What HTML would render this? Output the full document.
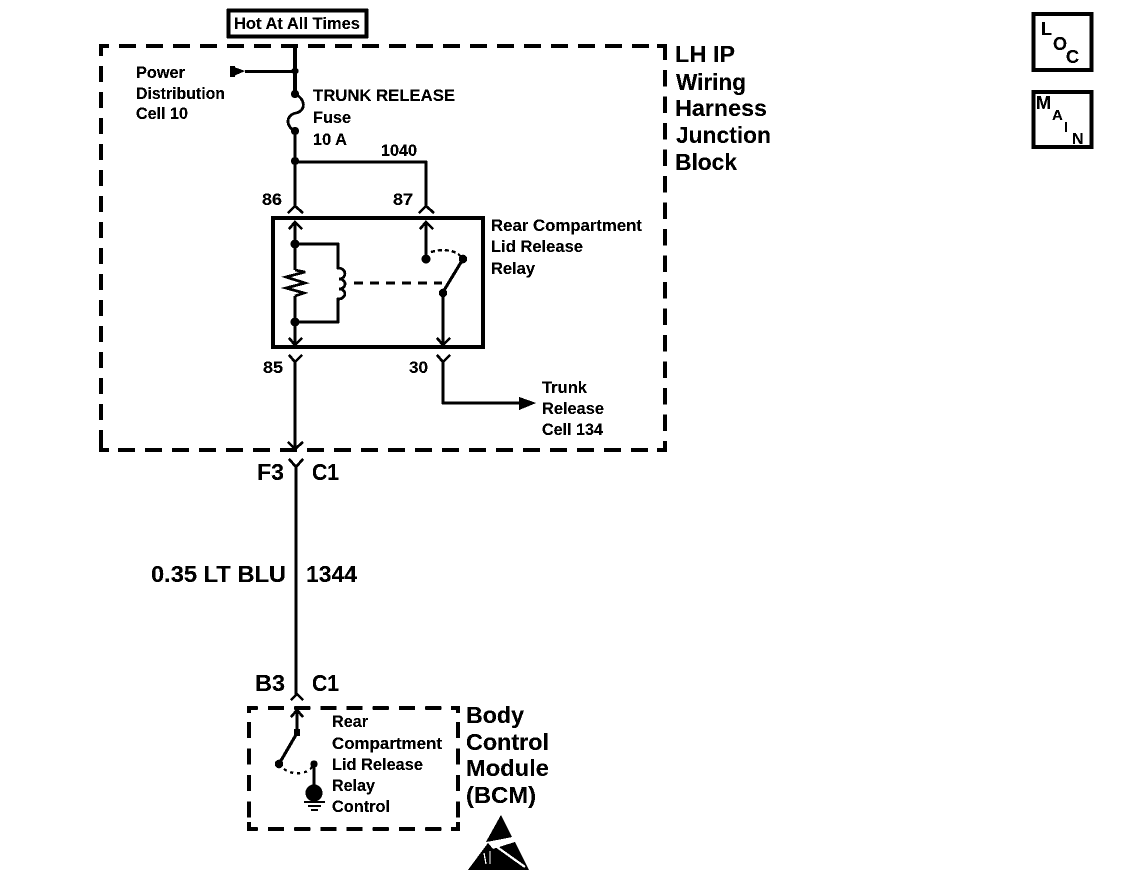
<!DOCTYPE html>
<html>
<head>
<meta charset="utf-8">
<style>
html,body{margin:0;padding:0;background:#fff;width:1136px;height:882px;overflow:hidden}
svg{display:block}
text{font-family:"Liberation Sans",sans-serif;fill:#000;font-weight:bold}
.s{font-size:16.5px}
.m{font-size:23.5px}
.n{font-size:23px}
.w{fill:none;stroke:#000;stroke-width:2.6}
.t{fill:none;stroke:#000;stroke-width:3.4}
.d{fill:#000;stroke:none}
.da{fill:none;stroke:#000;stroke-width:4}
.db{fill:none;stroke:#000;stroke-width:3.6}
</style>
</head>
<body>
<svg width="1136" height="882" viewBox="0 0 1136 882" xmlns="http://www.w3.org/2000/svg">
<defs>
<filter id="th" x="0" y="0" width="100%" height="100%" color-interpolation-filters="sRGB">
<feComponentTransfer>
<feFuncR type="discrete" tableValues="0 0 1"/>
<feFuncG type="discrete" tableValues="0 0 1"/>
<feFuncB type="discrete" tableValues="0 0 1"/>
</feComponentTransfer>
</filter>
</defs>
<g filter="url(#th)">
<rect x="0" y="0" width="1136" height="882" fill="#fff"/>
<rect x="228.5" y="10.5" width="138" height="26" class="t"/>
<text x="234" y="29" class="s" textLength="126" lengthAdjust="spacingAndGlyphs">Hot At All Times</text>

<!-- outer dashed block -->
<path d="M101 46H665" class="da" stroke-dasharray="17 10" stroke-dashoffset="9"/>
<path d="M665 46V450" class="da" stroke-dasharray="16.5 10" stroke-dashoffset="2.5"/>
<path d="M101 450H665" class="da" stroke-dasharray="17 10" stroke-dashoffset="10"/>
<path d="M101 46V450" class="da" stroke-dasharray="16 10" stroke-dashoffset="6"/>
<path d="M99 46H109M101 44V54" class="da"/>
<path d="M99 450H109M101 452V442" class="da"/>
<path d="M667 46H657M665 44V54" class="da"/>
<path d="M667 450H657M665 452V442" class="da"/>

<!-- top wiring -->
<path d="M295 46V93" class="t"/>
<path d="M245 71.5H295" class="w"/>
<path d="M231 66L245 71L231 77Z" class="d"/><rect x="230" y="66" width="5" height="11" class="d"/>
<circle cx="295" cy="71" r="3.5" class="d"/>
<circle cx="295" cy="94" r="4" class="d"/>
<path d="M295 94C306 99 306 111 296 113C286 115 285 126 295 131" class="w"/>
<circle cx="295" cy="131" r="4" class="d"/>
<path d="M295 131V207" class="t" style="stroke-width:3"/>
<circle cx="295" cy="161" r="4" class="d"/>
<path d="M295 162H426V207" class="w"/>
<path d="M288 213L295 206L303 213" class="w"/>
<path d="M419 213L426 206L434 213" class="w"/>

<text x="136" y="78" class="s" textLength="49" lengthAdjust="spacingAndGlyphs">Power</text>
<text x="136" y="99" class="s" textLength="89" lengthAdjust="spacingAndGlyphs">Distribution</text>
<text x="136" y="119" class="s" textLength="52" lengthAdjust="spacingAndGlyphs">Cell 10</text>
<text x="313" y="101" class="s" textLength="142" lengthAdjust="spacingAndGlyphs">TRUNK RELEASE</text>
<text x="313" y="123" class="s" textLength="38" lengthAdjust="spacingAndGlyphs">Fuse</text>
<text x="313" y="145" class="s" textLength="34" lengthAdjust="spacingAndGlyphs">10 A</text>
<text x="381" y="156" class="s" textLength="36" lengthAdjust="spacingAndGlyphs">1040</text>
<text x="262" y="205" class="s" textLength="20" lengthAdjust="spacingAndGlyphs">86</text>
<text x="393" y="205" class="s" textLength="20" lengthAdjust="spacingAndGlyphs">87</text>

<!-- LH IP label -->
<text x="675" y="62" class="m" textLength="60" lengthAdjust="spacingAndGlyphs">LH IP</text>
<text x="676" y="90" class="m" textLength="70" lengthAdjust="spacingAndGlyphs">Wiring</text>
<text x="675" y="116" class="m" textLength="92" lengthAdjust="spacingAndGlyphs">Harness</text>
<text x="676" y="143" class="m" textLength="95" lengthAdjust="spacingAndGlyphs">Junction</text>
<text x="675" y="170" class="m" textLength="62" lengthAdjust="spacingAndGlyphs">Block</text>

<!-- relay -->
<rect x="273" y="218" width="210" height="129" fill="none" stroke="#000" stroke-width="4"/>
<path d="M295 222V270M295 296V345" class="w"/>
<path d="M289 229L295 222L302 229" class="w"/>
<path d="M289 338L295 345L302 338" class="w"/>
<circle cx="295" cy="244" r="4.5" class="d"/>
<circle cx="295" cy="322" r="4.5" class="d"/>
<path d="M295 244H338V268C347 268 347 279 339 279C347 279 347 289 339 289C347 289 347 299 338 299V322H295" class="w"/>
<path d="M295 270L305 272L286 277L305 283L286 288L304 293L295 296" class="w"/>
<path d="M354 283H442" class="w" stroke-dasharray="9 7"/>
<path d="M426 222V259" class="w"/>
<path d="M420 229L426 222L433 229" class="w"/>
<circle cx="426" cy="259" r="4.5" class="d"/>
<path d="M431 252C440 249 456 249 461 257" class="w" style="stroke-width:2.2" stroke-dasharray="4 3"/>
<circle cx="463" cy="259" r="4.2" class="d"/>
<path d="M463 259L443 292" class="w" style="stroke-width:3"/>
<circle cx="443" cy="293" r="4.2" class="d"/>
<path d="M443 293V345" class="w"/>
<path d="M437 338L443 345L450 338" class="w"/>

<text x="491" y="231" class="s" textLength="151" lengthAdjust="spacingAndGlyphs">Rear Compartment</text>
<text x="491" y="252" class="s" textLength="92" lengthAdjust="spacingAndGlyphs">Lid Release</text>
<text x="491" y="274" class="s" textLength="44" lengthAdjust="spacingAndGlyphs">Relay</text>

<!-- under relay -->
<path d="M289 355L295 362L302 355" class="w"/>
<path d="M295 362V449" class="w"/>
<path d="M288 442L295 449L303 442" class="w"/>
<text x="263" y="373" class="s" textLength="20" lengthAdjust="spacingAndGlyphs">85</text>
<path d="M437 355L443 362L450 355" class="w"/>
<path d="M443 362V403H520" class="w"/>
<path d="M519 397L536 403L519 410Z" class="d"/>
<text x="409" y="373" class="s" textLength="19" lengthAdjust="spacingAndGlyphs">30</text>
<text x="542" y="393" class="s" textLength="45" lengthAdjust="spacingAndGlyphs">Trunk</text>
<text x="542" y="414" class="s" textLength="62" lengthAdjust="spacingAndGlyphs">Release</text>
<text x="542" y="435" class="s" textLength="61" lengthAdjust="spacingAndGlyphs">Cell 134</text>

<!-- main wire -->
<path d="M289 459L296 467L303 459" class="w"/>
<path d="M296 467V696" class="w" style="stroke-width:3"/>
<path d="M291 700L297 694L303 700" class="w"/>
<text x="257" y="480" class="n" textLength="27" lengthAdjust="spacingAndGlyphs">F3</text>
<text x="312" y="480" class="n" textLength="27" lengthAdjust="spacingAndGlyphs">C1</text>
<text x="151" y="582" class="n" textLength="135" lengthAdjust="spacingAndGlyphs">0.35 LT BLU</text>
<text x="306" y="582" class="n" textLength="51" lengthAdjust="spacingAndGlyphs">1344</text>
<text x="255" y="691" class="n" textLength="30" lengthAdjust="spacingAndGlyphs">B3</text>
<text x="312" y="691" class="n" textLength="27" lengthAdjust="spacingAndGlyphs">C1</text>

<!-- BCM -->
<path d="M249 708H458" class="db" stroke-dasharray="16 10.2" stroke-dashoffset="7.2"/>
<path d="M249 829H458" class="db" stroke-dasharray="16 10.2" stroke-dashoffset="7.2"/>
<path d="M249 708V829" class="db" stroke-dasharray="16 10.5" stroke-dashoffset="12.5"/>
<path d="M458 708V829" class="db" stroke-dasharray="16 10.5" stroke-dashoffset="12.5"/>
<path d="M247 708H256M249 706V713" class="db"/>
<path d="M247 829H256M249 831V822" class="db"/>
<path d="M460 708H451M458 706V713" class="db"/>
<path d="M460 829H451M458 831V822" class="db"/>
<path d="M297 710V732" class="w"/>
<path d="M291 717L297 710L303 717" class="w"/>
<rect x="294" y="729" width="6" height="7" class="d"/>
<path d="M297 733L279 764" class="w" style="stroke-width:3"/>
<circle cx="279" cy="764" r="4.2" class="d"/>
<path d="M284 769C292 775 306 775 312 767" class="w" style="stroke-width:2.2" stroke-dasharray="3 4"/>
<circle cx="314" cy="764" r="3.6" class="d"/>
<path d="M314 764V790" class="w"/>
<circle cx="314" cy="793" r="8.5" class="d"/>
<path d="M304 802H325" class="w" style="stroke-width:2"/>
<path d="M308 806H321" class="w" style="stroke-width:1.8"/>
<path d="M311 810H318" class="w" style="stroke-width:1.8"/>
<text x="332" y="727" class="s" textLength="36" lengthAdjust="spacingAndGlyphs">Rear</text>
<text x="332" y="749" class="s" textLength="110" lengthAdjust="spacingAndGlyphs">Compartment</text>
<text x="332" y="770" class="s" textLength="91" lengthAdjust="spacingAndGlyphs">Lid Release</text>
<text x="332" y="791" class="s" textLength="43" lengthAdjust="spacingAndGlyphs">Relay</text>
<text x="332" y="812" class="s" textLength="58" lengthAdjust="spacingAndGlyphs">Control</text>
<text x="466" y="723" class="m" textLength="58" lengthAdjust="spacingAndGlyphs">Body</text>
<text x="466" y="750" class="m" textLength="83" lengthAdjust="spacingAndGlyphs">Control</text>
<text x="466" y="776" class="m" textLength="83" lengthAdjust="spacingAndGlyphs">Module</text>
<text x="466" y="803" class="m" textLength="70" lengthAdjust="spacingAndGlyphs">(BCM)</text>

<!-- ESD -->
<path d="M501 815L512 837L486 842Z" class="d"/>
<path d="M468 870L488 843L493 849L515 842L529 870Z" class="d"/>
<path d="M497 847L525 867" stroke="#fff" stroke-width="2.4" fill="none"/>
<path d="M484 853L486 864M490 851L490 864" stroke="#fff" stroke-width="1.4" fill="none"/>

<!-- LOC / MAIN -->
<rect x="1033.5" y="14" width="58" height="56" class="t" style="stroke-width:3.6"/>
<text x="1041" y="35" style="font-size:18px">L</text>
<text x="1053" y="50" style="font-size:18px">O</text>
<text x="1066" y="63" style="font-size:18px">C</text>
<rect x="1033.5" y="92" width="58" height="55" class="t" style="stroke-width:3.6"/>
<text x="1036" y="109" style="font-size:18px">M</text>
<text x="1052" y="120" style="font-size:15px">A</text>
<text x="1064" y="132" style="font-size:15px">I</text>
<text x="1072" y="144" style="font-size:16px">N</text>
</g>
</svg>
</body>
</html>
